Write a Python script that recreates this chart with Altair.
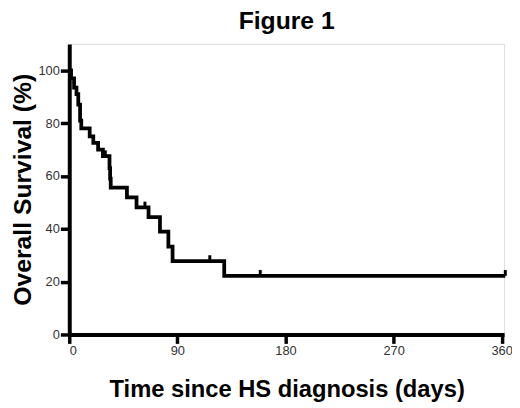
import altair as alt
import pandas as pd

# Kaplan-Meier step curve (days, survival %)
times = [0, 1.5, 4, 6, 7.5, 9, 10, 17, 20, 24, 28, 33.5, 34, 34.5, 48, 56, 66, 75.5, 82.5, 86, 129, 363]
surv = [100, 97, 93.5, 91, 87, 81, 78, 75, 72.5, 70, 67.5, 63, 59, 55.6, 51.9, 48.1, 44.4, 38.9, 33.3, 27.8, 22.2, 22.2]

# censored observations
cens_times = [30, 63, 117, 159, 363]
cens_surv = [67.5, 48.1, 27.8, 22.2, 22.2]

x_ticks = [0, 90, 180, 270, 360]
y_ticks = [0, 20, 40, 60, 80, 100]

FONT = "Liberation Sans"

curve = pd.DataFrame({"t": times, "s": surv})
cens = pd.DataFrame({"t": cens_times, "s": cens_surv})
cens["s2"] = cens["s"] + 2.2

x_enc = alt.X(
    "t:Q",
    scale=alt.Scale(domain=[0, 362], nice=False, zero=False),
    axis=alt.Axis(
        values=x_ticks,
        title="Time since HS diagnosis (days)",
        grid=False,
        domainColor="black",
        domainWidth=4,
        tickColor="black",
        tickWidth=3.5,
        tickSize=9,
        labelFont=FONT,
        labelFontSize=13,
        labelColor="#333",
        labelPadding=1,
        titleFont=FONT,
        titleFontSize=24,
        titleFontWeight="bold",
        titleColor="black",
        titlePadding=21,
    ),
)
y_enc = alt.Y(
    "s:Q",
    scale=alt.Scale(domain=[0, 110], nice=False),
    axis=alt.Axis(
        values=y_ticks,
        title="Overall Survival (%)",
        grid=False,
        domainColor="black",
        domainWidth=4,
        tickColor="black",
        tickWidth=3.5,
        tickSize=9,
        labelFont=FONT,
        labelFontSize=13,
        labelColor="#333",
        labelPadding=1,
        titleFont=FONT,
        titleFontSize=25,
        titleFontWeight="bold",
        titleColor="black",
        titlePadding=3,
    ),
)

line = alt.Chart(curve).mark_line(
    interpolate="step-after", color="black", strokeWidth=3.8, clip=False
).encode(x=x_enc, y=y_enc)

ticks = alt.Chart(cens).mark_rule(color="black", strokeWidth=3).encode(
    x="t:Q", y="s:Q", y2="s2:Q"
)

chart = (
    alt.layer(line, ticks)
    .properties(
        width=440,
        height=294,
        title=alt.TitleParams(
            "Figure 1", font=FONT, fontSize=25, fontWeight="bold", color="black",
            anchor="middle", offset=10,
        ),
        autosize=alt.AutoSizeParams(type="none"),
        padding={"left": 62, "top": 34, "right": 8, "bottom": 70},
    )
    .configure_view(stroke=None)
    .configure(background="white")
)

chart.save("out.html", embed_options={"renderer": "svg", "actions": False})
